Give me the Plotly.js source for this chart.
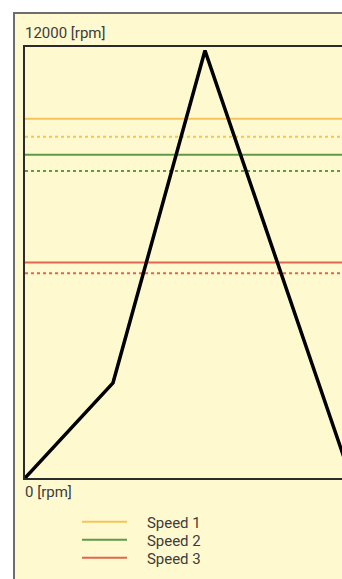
<!DOCTYPE html>
<html>
<head>
<meta charset="utf-8">
<script src="https://cdn.plot.ly/plotly-3.0.1.min.js"></script>
<style>
  html, body { margin: 0; padding: 0; background: #ffffff; overflow: hidden; width: 342px; height: 579px; }
  #frame { position: absolute; left: 13px; top: 12px; width: 345px; height: 580px; border: 2px solid #6e6e6e; background: #fff9cf; overflow: hidden; }
  #chart { width: 345px; height: 580px; }
</style>
</head>
<body>
<div id="frame"><div id="chart"></div></div>
<script>
// Profile of the motor speed (time units arbitrary, rpm)
var profileTime = [0, 8.8, 18.0, 32.6];
var profileRpm  = [0, 2650, 11900, 0];

// Speed levels and their (dotted) lower thresholds
var speedNames   = ['Speed 1', 'Speed 2', 'Speed 3'];
var speedLevels  = [10000, 9000, 6000];
var speedLower   = [9500, 8550, 5700];
var speedColors  = ['#f5c35a', '#5f9a48', '#e2664f'];

var yMin = 0, yMax = 12000, yUnit = '[rpm]';
var xRange = [0, 33.5];

var legendIds = ['legend', 'legend2', 'legend3'];
var PAD = '\u00a0\u00a0\u00a0\u00a0';
var FONT = 'Roboto, "Noto Sans", sans-serif';

var traces = [];
for (var i = 0; i < speedNames.length; i++) {
  traces.push({
    x: xRange, y: [speedLevels[i], speedLevels[i]], mode: 'lines', name: PAD + speedNames[i],
    line: { color: speedColors[i], width: 2 }, hoverinfo: 'skip', showlegend: true, legend: legendIds[i]
  });
}
for (var j = 0; j < speedNames.length; j++) {
  traces.push({
    x: xRange, y: [speedLower[j], speedLower[j]], mode: 'lines', name: speedNames[j] + ' low',
    line: { color: speedColors[j], width: 2, dash: 'dot' }, hoverinfo: 'skip', showlegend: false
  });
}
traces.push({
  x: profileTime, y: profileRpm, mode: 'lines', name: 'Speed profile',
  line: { color: '#000000', width: 3.5 }, showlegend: false
});

var plotH = 580 - 33 - 116;
var legendRowsPx = [44, 62, 80];   // distance of each legend row below the plot bottom

var layout = {
  width: 345, height: 580,
  margin: { l: 10, r: 0, t: 33, b: 116, pad: 0 },
  paper_bgcolor: '#fff9cf', plot_bgcolor: '#fff9cf',
  font: { family: FONT, size: 15, color: '#3c3c3c' },
  xaxis: { range: xRange, showgrid: false, zeroline: false, showticklabels: false, ticks: '',
           showline: true, linecolor: '#2b2b2b', linewidth: 2, mirror: true, fixedrange: true },
  yaxis: { range: [yMin, yMax], showgrid: false, zeroline: false, showticklabels: false, ticks: '',
           showline: true, linecolor: '#2b2b2b', linewidth: 2, mirror: true, fixedrange: true },
  showlegend: true,
  annotations: [
    { xref: 'paper', yref: 'paper', x: 0, y: 1, xanchor: 'left', yanchor: 'bottom', yshift: 3, xshift: -2,
      text: yMax + ' ' + yUnit, showarrow: false, font: { family: FONT, size: 15, color: '#3c3c3c' } },
    { xref: 'paper', yref: 'paper', x: 0, y: 0, xanchor: 'left', yanchor: 'top', yshift: -3, xshift: -2,
      text: yMin + ' ' + yUnit, showarrow: false, font: { family: FONT, size: 15, color: '#3c3c3c' } }
  ]
};
for (var k = 0; k < legendIds.length; k++) {
  layout[legendIds[k]] = {
    x: 52 / (345 - 10), xanchor: 'left', y: -legendRowsPx[k] / plotH, yanchor: 'middle',
    bgcolor: 'rgba(0,0,0,0)', borderwidth: 0,
    font: { family: FONT, size: 15, color: '#3c3c3c' }, itemwidth: 45
  };
}

Plotly.newPlot('chart', traces, layout, { displayModeBar: false, staticPlot: true });
</script>
</body>
</html>
